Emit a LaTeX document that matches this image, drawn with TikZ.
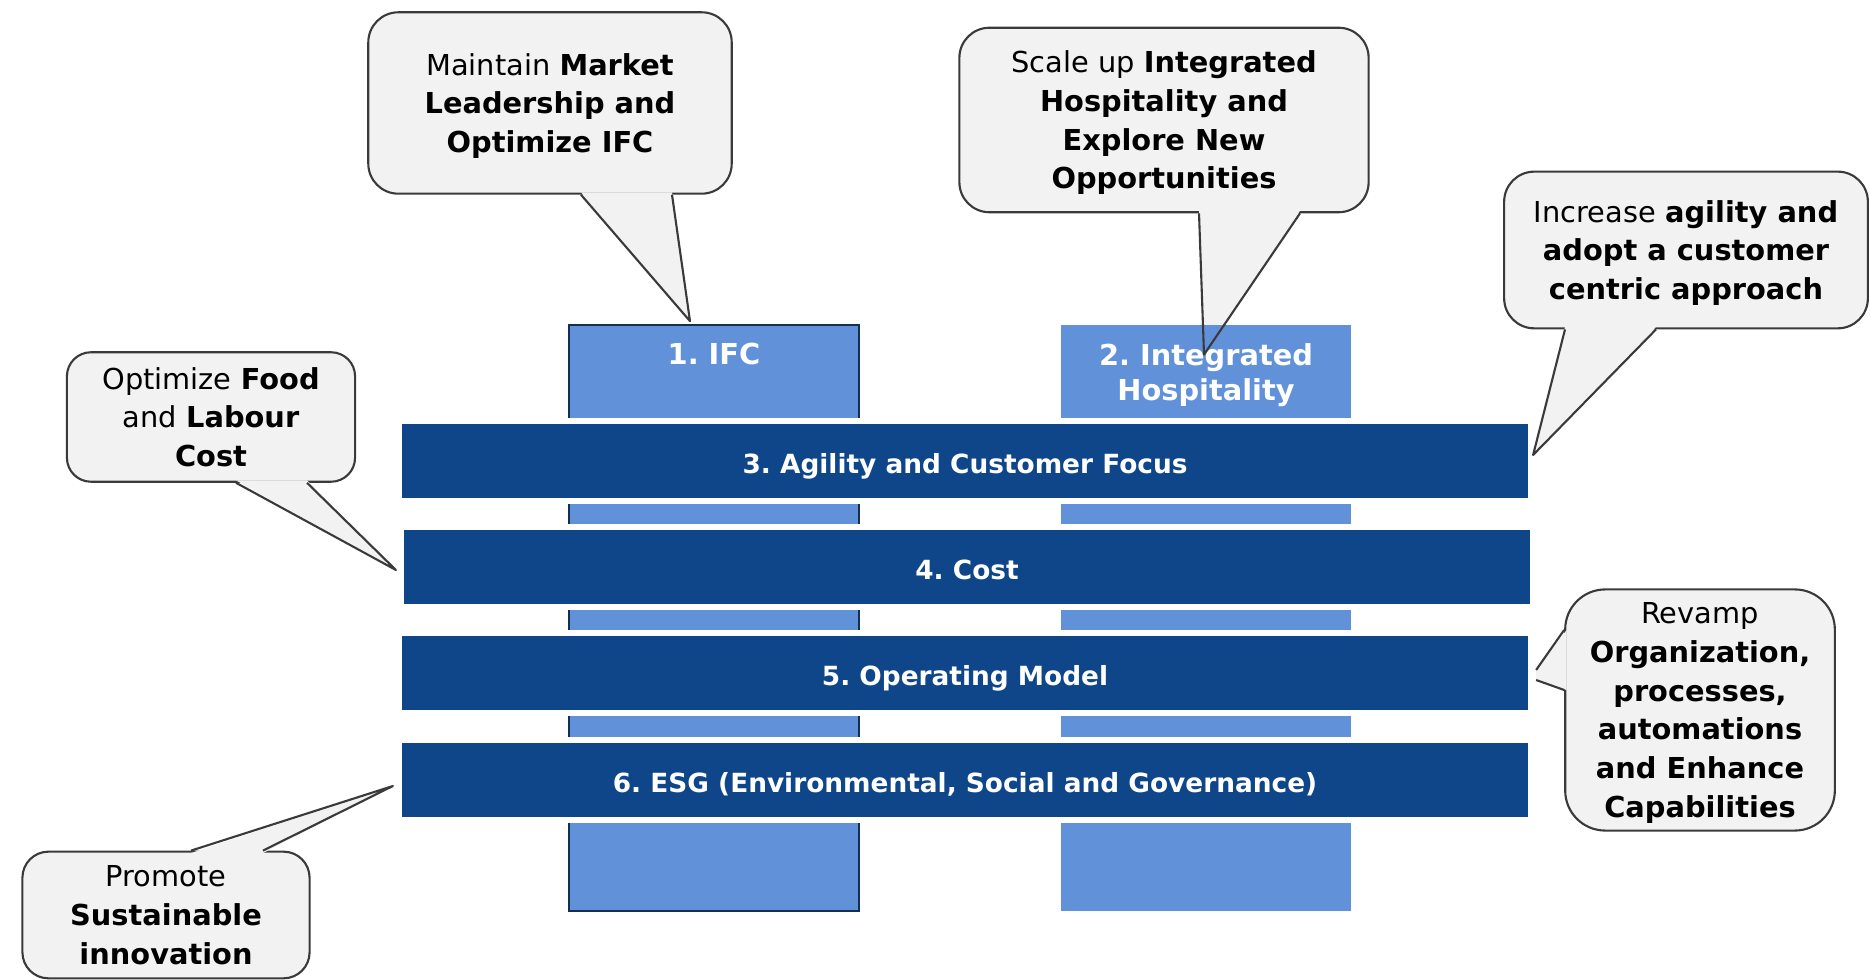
\documentclass[tikz,border=0pt]{standalone}
\usepackage{fontspec}
\setmainfont{DejaVu Sans}
\usetikzlibrary{calc}
\definecolor{pillarblue}{HTML}{6192D9}
\definecolor{pillarline}{HTML}{12304F}
\definecolor{navy}{HTML}{0F4689}
\definecolor{bubfill}{HTML}{F2F2F2}
\definecolor{bubline}{HTML}{3A3A3A}
\pgfdeclarelayer{bubbles}
\pgfdeclarelayer{tails}
\pgfsetlayers{bubbles,main,tails}
\frenchspacing
\begin{document}
\begin{tikzpicture}[x=0.01cm,y=-0.01cm,
    bubble/.style={rectangle,rounded corners=0.3cm,fill=bubfill,draw=bubline,line width=0.6pt,
      align=center,inner sep=0pt,text depth=0pt,font=\fontsize{8.2}{11}\selectfont},
    tailfill/.style={fill=bubfill},
    tailline/.style={draw=bubline,line width=0.6pt,line join=round},
    pillar/.style={rectangle,fill=pillarblue,inner sep=0pt,minimum width=2.895cm,minimum height=5.852cm},
    pillartext/.style={text=white,font=\fontsize{8.2}{10}\selectfont\bfseries,align=center,
      anchor=north,inner sep=0pt},
    layer/.style={rectangle,fill=navy,draw=white,line width=1.6pt,inner sep=0pt,
      minimum width=11.319cm,minimum height=0.799cm,text=white,text height=7.1pt,text depth=0pt,
      font=\fontsize{7.5}{9}\selectfont\bfseries}]

  \useasboundingbox (0,0) rectangle (1870,980);

  % pillars
  \node[pillar,draw=pillarline,line width=0.6pt] (p1) at (714,618) {};
  \node[pillar] (p2) at (1206,618) {};
  \node[pillartext] (p1t) at ($(p1.north)+(0,18)$) {1. IFC};
  \node[pillartext] (p2t) at ($(p2.north)+(0,18)$) {2. Integrated\\Hospitality};

  % cross layers
  \node[layer] (l3) at (965,461) {3. Agility and Customer Focus};
  \node[layer] (l4) at (967,567) {4. Cost};
  \node[layer] (l5) at (965,673) {5. Operating Model};
  \node[layer] (l6) at (965,780) {6. ESG (Environmental, Social and Governance)};

  % speech bubbles
  \begin{pgfonlayer}{bubbles}
    \node[bubble,minimum width=3.632cm,minimum height=1.813cm] (b1) at (550,103)
      {Maintain \textbf{Market}\\\textbf{Leadership and}\\\textbf{Optimize IFC}};
    \node[bubble,minimum width=4.09cm,minimum height=1.844cm] (b2) at (1164,120)
      {Scale up \textbf{Integrated}\\\textbf{Hospitality and}\\\textbf{Explore New}\\\textbf{Opportunities}};
    \node[bubble,minimum width=3.635cm,minimum height=1.566cm] (b3) at (1686,250)
      {Increase \textbf{agility and}\\\textbf{adopt a customer}\\\textbf{centric approach}};
    \node[bubble,rounded corners=0.24cm,minimum width=2.88cm,minimum height=1.294cm] (b4) at (211,417)
      {Optimize \textbf{Food}\\and \textbf{Labour}\\\textbf{Cost}};
    \node[bubble,rounded corners=0.4cm,minimum width=2.695cm,minimum height=2.41cm] (b5) at (1700,710)
      {Revamp\\\textbf{Organization,}\\\textbf{processes,}\\\textbf{automations}\\\textbf{and Enhance}\\\textbf{Capabilities}};
    \node[bubble,rounded corners=0.26cm,minimum width=2.87cm,minimum height=1.266cm] (b6) at (166,915)
      {Promote\\\textbf{Sustainable}\\\textbf{innovation}};

    % tail ends
    \coordinate (b1a) at ($(b1.south)+(31,0)$);
    \coordinate (b1b) at ($(b1.south)+(122,0)$);
    \coordinate (t1) at ($(p1.north)+(-24,-3)$);
    \coordinate (b2a) at ($(b2.south)+(35,0)$);
    \coordinate (b2b) at ($(b2.south)+(136,0)$);
    \coordinate (t2) at ($(p2.north)+(-2,30)$);
    \coordinate (b3a) at ($(b3.south)+(-121,0)$);
    \coordinate (b3b) at ($(b3.south)+(-30,0)$);
    \coordinate (t3) at ($(l3.east)+(-1,-6)$);
    \coordinate (b4a) at ($(b4.south)+(25,0)$);
    \coordinate (b4b) at ($(b4.south)+(96,0)$);
    \coordinate (t4) at ($(l4.west)+(-2,3)$);
    \coordinate (b5a) at ($(b5.west)+(0,-80)$);
    \coordinate (b5b) at ($(b5.west)+(0,-20)$);
    \coordinate (t5a) at ($(l5.east)+(2,-3)$);
    \coordinate (t5b) at ($(l5.east)+(2,7)$);
    \coordinate (b6a) at ($(b6.north)+(25,0)$);
    \coordinate (b6b) at ($(b6.north)+(97,0)$);
    \coordinate (t6) at ($(l6.west)+(-3,6)$);

    \fill[tailfill] ([yshift=0.7pt]b1a) -- (t1) -- ([yshift=0.7pt]b1b) -- cycle;
    \fill[tailfill] ([yshift=0.7pt]b2a) -- (t2) -- ([yshift=0.7pt]b2b) -- cycle;
    \fill[tailfill] ([yshift=0.7pt]b3a) -- (t3) -- ([yshift=0.7pt]b3b) -- cycle;
    \fill[tailfill] ([yshift=0.7pt]b4a) -- (t4) -- ([yshift=0.7pt]b4b) -- cycle;
    \fill[tailfill] ([xshift=0.7pt]b5a) -- (t5a) -- (t5b) -- ([xshift=0.7pt]b5b) -- cycle;
    \fill[tailfill] ([yshift=-0.7pt]b6a) -- (t6) -- ([yshift=-0.7pt]b6b) -- cycle;
  \end{pgfonlayer}

  \begin{pgfonlayer}{tails}
    \draw[tailline] (b1a) -- (t1) -- (b1b);
    \draw[tailline] (b2a) -- (t2) -- (b2b);
    \draw[tailline] (b3a) -- (t3) -- (b3b);
    \draw[tailline] (b4a) -- (t4) -- (b4b);
    \draw[tailline] (b5a) -- (t5a) (t5b) -- (b5b);
    \draw[tailline] (b6a) -- (t6) -- (b6b);
  \end{pgfonlayer}

\end{tikzpicture}
\end{document}
